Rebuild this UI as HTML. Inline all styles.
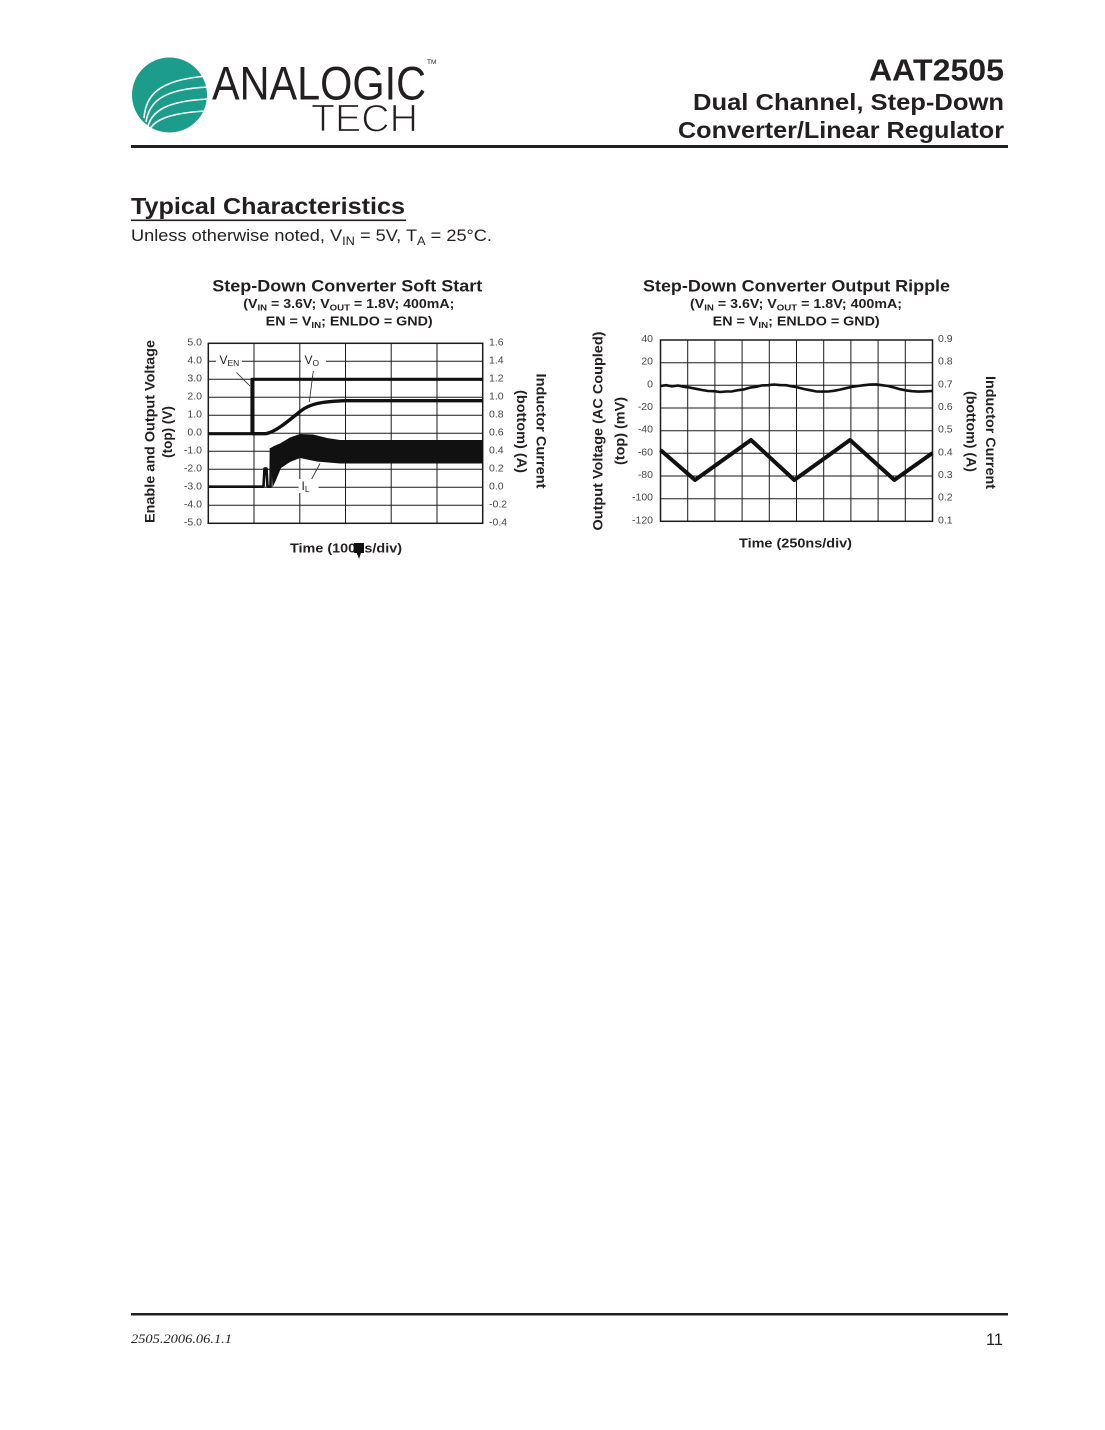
<!DOCTYPE html>
<html><head><meta charset="utf-8"><style>
html,body{margin:0;padding:0;background:#fff;}
svg{display:block;}
text{font-family:"Liberation Sans",sans-serif;}
</style></head><body>
<svg width="1105" height="1430" viewBox="0 0 1105 1430" xmlns="http://www.w3.org/2000/svg">
<rect x="0" y="0" width="1105" height="1430" fill="#fff"/>

<!-- Logo -->
<circle cx="169.5" cy="95" r="37.5" fill="#1c9d8c"/>
<g fill="none" stroke="#fff" stroke-width="1.6">
<path d="M144,118 C146,96 157,80 207,76"/>
<path d="M146,122 C149,103 161,89 208,87"/>
<path d="M148,126 C152,112 165,101 208,99"/>
<path d="M150,129 C155,120 169,113 206,111"/>
</g>
<text x="212" y="99.5" font-size="47" fill="#231f20" textLength="214" lengthAdjust="spacingAndGlyphs">ANALOGIC</text>
<text x="427" y="64" font-size="6.5" fill="#231f20">TM</text>
<text x="311" y="131.5" font-size="39" fill="#231f20" stroke="#fff" stroke-width="1.2" textLength="107" lengthAdjust="spacingAndGlyphs">TECH</text>

<!-- Header right -->
<text x="1004" y="80.7" font-size="31" font-weight="bold" fill="#231f20" text-anchor="end" textLength="135" lengthAdjust="spacingAndGlyphs">AAT2505</text>
<text x="1004" y="110" font-size="23" font-weight="bold" fill="#231f20" text-anchor="end" textLength="311" lengthAdjust="spacingAndGlyphs">Dual Channel, Step-Down</text>
<text x="1004" y="138" font-size="23" font-weight="bold" fill="#231f20" text-anchor="end" textLength="326" lengthAdjust="spacingAndGlyphs">Converter/Linear Regulator</text>
<rect x="131" y="145" width="877" height="3" fill="#231f20"/>

<!-- Section heading -->
<text x="131" y="214" font-size="23" font-weight="bold" fill="#231f20" textLength="274" lengthAdjust="spacingAndGlyphs">Typical Characteristics</text>
<rect x="131" y="219.5" width="275" height="1.6" fill="#231f20"/>
<text x="131" y="241" font-size="17" fill="#231f20" textLength="361" lengthAdjust="spacingAndGlyphs">Unless otherwise noted, V<tspan font-size="12" dy="4">IN</tspan><tspan dy="-4"> = 5V, T</tspan><tspan font-size="12" dy="4">A</tspan><tspan dy="-4"> = 25°C.</tspan></text>

<!-- ============ LEFT CHART ============ -->
<text x="212.3" y="291.5" font-size="17" font-weight="bold" fill="#231f20" textLength="270" lengthAdjust="spacingAndGlyphs">Step-Down Converter Soft Start</text>
<text x="243.3" y="308" font-size="12.5" font-weight="bold" fill="#231f20" textLength="211" lengthAdjust="spacingAndGlyphs">(V<tspan font-size="8.5" dy="2.5">IN</tspan><tspan dy="-2.5"> = 3.6V; V</tspan><tspan font-size="8.5" dy="2.5">OUT</tspan><tspan dy="-2.5"> = 1.8V; 400mA;</tspan></text>
<text x="265.7" y="325.5" font-size="12.5" font-weight="bold" fill="#231f20" textLength="167" lengthAdjust="spacingAndGlyphs">EN = V<tspan font-size="8.5" dy="2.5">IN</tspan><tspan dy="-2.5">; ENLDO = GND)</tspan></text>

<g stroke="#1a1a1a" stroke-width="1" fill="none">
<line x1="254" y1="343.3" x2="254" y2="523.3"/>
<line x1="299.8" y1="343.3" x2="299.8" y2="523.3"/>
<line x1="345.5" y1="343.3" x2="345.5" y2="523.3"/>
<line x1="391.2" y1="343.3" x2="391.2" y2="523.3"/>
<line x1="437" y1="343.3" x2="437" y2="523.3"/>
<line x1="208.3" y1="361.3" x2="482.7" y2="361.3"/>
<line x1="208.3" y1="379.3" x2="482.7" y2="379.3"/>
<line x1="208.3" y1="397.3" x2="482.7" y2="397.3"/>
<line x1="208.3" y1="415.3" x2="482.7" y2="415.3"/>
<line x1="208.3" y1="433.3" x2="482.7" y2="433.3"/>
<line x1="208.3" y1="451.3" x2="482.7" y2="451.3"/>
<line x1="208.3" y1="469.3" x2="482.7" y2="469.3"/>
<line x1="208.3" y1="487.3" x2="482.7" y2="487.3"/>
<line x1="208.3" y1="505.3" x2="482.7" y2="505.3"/>
</g>
<rect x="208.3" y="343.3" width="274.4" height="180" fill="none" stroke="#1a1a1a" stroke-width="1.5"/>

<!-- label backgrounds -->
<rect x="216" y="354" width="26" height="14" fill="#fff"/>
<rect x="301" y="354" width="25" height="14" fill="#fff"/>
<rect x="298.5" y="479" width="20" height="14" fill="#fff"/>

<!-- traces -->
<g fill="none" stroke="#111" stroke-linejoin="round">
<path d="M208.3,433.7 L252,433.7 L252,379.3 L482.7,379.3" stroke-width="3.2"/>
<path d="M252,433.7 L266,433.7 C275,432 286,423 300.7,411 C310,404 320,401.5 346.7,400.7 L482.7,400.7" stroke-width="3.4"/>
<path d="M208.3,486.7 L263.5,486.7 L264.5,468.5 L266.5,468.5 L267.5,486.7 L270.5,486.7 L271,448" stroke-width="2.6"/>
</g>
<path d="M270.5,448 L274,446 L280,443.5 L290,437.5 L300,434 L313,434.5 L327,438 L340,440 L482.7,440 L482.7,463.5 L340,463.5 L316.7,461.5 L300,458 L290,462 L281,468 L276,480 L272.5,487.5 Z" fill="#111"/>

<!-- labels -->
<text x="219.5" y="364" font-size="12" fill="#222">V<tspan font-size="8.5" dy="2">EN</tspan></text>
<text x="304.5" y="364" font-size="12" fill="#222">V<tspan font-size="8.5" dy="2">O</tspan></text>
<text x="301.5" y="490" font-size="12" fill="#222">I<tspan font-size="8.5" dy="2">L</tspan></text>
<g stroke="#222" stroke-width="0.8">
<line x1="236.5" y1="372.5" x2="250" y2="386"/>
<line x1="313.3" y1="371" x2="309.3" y2="402"/>
<line x1="311.7" y1="479" x2="320" y2="463.5"/>
</g>

<!-- ticks -->
<g font-size="10.5" fill="#444" text-anchor="end">
<text x="202" y="345.3">5.0</text>
<text x="202" y="363.3">4.0</text>
<text x="202" y="381.3">3.0</text>
<text x="202" y="399.3">2.0</text>
<text x="202" y="417.3">1.0</text>
<text x="202" y="435.3">0.0</text>
<text x="202" y="453.3">-1.0</text>
<text x="202" y="471.3">-2.0</text>
<text x="202" y="489.3">-3.0</text>
<text x="202" y="507.3">-4.0</text>
<text x="202" y="525.3">-5.0</text>
</g>
<g font-size="10.5" fill="#444">
<text x="489" y="345.3">1.6</text>
<text x="489" y="363.3">1.4</text>
<text x="489" y="381.3">1.2</text>
<text x="489" y="399.3">1.0</text>
<text x="489" y="417.3">0.8</text>
<text x="489" y="435.3">0.6</text>
<text x="489" y="453.3">0.4</text>
<text x="489" y="471.3">0.2</text>
<text x="489" y="489.3">0.0</text>
<text x="489" y="507.3">-0.2</text>
<text x="489" y="525.3">-0.4</text>
</g>
<!-- axis titles -->
<text transform="translate(154.5,431.5) rotate(-90)" font-size="13.5" font-weight="bold" fill="#231f20" text-anchor="middle" textLength="183" lengthAdjust="spacingAndGlyphs">Enable and Output Voltage</text>
<text transform="translate(172,432) rotate(-90)" font-size="13.5" font-weight="bold" fill="#231f20" text-anchor="middle">(top) (V)</text>
<text transform="translate(536.5,431) rotate(90)" font-size="13.5" font-weight="bold" fill="#231f20" text-anchor="middle" textLength="115" lengthAdjust="spacingAndGlyphs">Inductor Current</text>
<text transform="translate(517,431.5) rotate(90)" font-size="13.5" font-weight="bold" fill="#231f20" text-anchor="middle" textLength="83" lengthAdjust="spacingAndGlyphs">(bottom) (A)</text>
<text x="290" y="552.7" font-size="13" font-weight="bold" fill="#231f20" textLength="112" lengthAdjust="spacingAndGlyphs">Time (100µs/div)</text>
<path d="M354,543 L364,543 L364,553 L361,553 L359,559 L357,553 L354,553 Z" fill="#111"/>

<!-- ============ RIGHT CHART ============ -->
<text x="643" y="291.5" font-size="17" font-weight="bold" fill="#231f20" textLength="307" lengthAdjust="spacingAndGlyphs">Step-Down Converter Output Ripple</text>
<text x="690" y="308" font-size="12.5" font-weight="bold" fill="#231f20" textLength="212" lengthAdjust="spacingAndGlyphs">(V<tspan font-size="8.5" dy="2.5">IN</tspan><tspan dy="-2.5"> = 3.6V; V</tspan><tspan font-size="8.5" dy="2.5">OUT</tspan><tspan dy="-2.5"> = 1.8V; 400mA;</tspan></text>
<text x="712.7" y="325.5" font-size="12.5" font-weight="bold" fill="#231f20" textLength="167" lengthAdjust="spacingAndGlyphs">EN = V<tspan font-size="8.5" dy="2.5">IN</tspan><tspan dy="-2.5">; ENLDO = GND)</tspan></text>

<g stroke="#1a1a1a" stroke-width="1" fill="none">
<line x1="687.7" y1="340" x2="687.7" y2="521.3"/>
<line x1="714.9" y1="340" x2="714.9" y2="521.3"/>
<line x1="742.1" y1="340" x2="742.1" y2="521.3"/>
<line x1="769.3" y1="340" x2="769.3" y2="521.3"/>
<line x1="796.5" y1="340" x2="796.5" y2="521.3"/>
<line x1="823.7" y1="340" x2="823.7" y2="521.3"/>
<line x1="850.9" y1="340" x2="850.9" y2="521.3"/>
<line x1="878.1" y1="340" x2="878.1" y2="521.3"/>
<line x1="905.3" y1="340" x2="905.3" y2="521.3"/>
<line x1="660.5" y1="362.7" x2="932.5" y2="362.7"/>
<line x1="660.5" y1="385.3" x2="932.5" y2="385.3"/>
<line x1="660.5" y1="408" x2="932.5" y2="408"/>
<line x1="660.5" y1="430.7" x2="932.5" y2="430.7"/>
<line x1="660.5" y1="453.3" x2="932.5" y2="453.3"/>
<line x1="660.5" y1="476" x2="932.5" y2="476"/>
<line x1="660.5" y1="498.7" x2="932.5" y2="498.7"/>
</g>
<rect x="660.5" y="340" width="272" height="181.3" fill="none" stroke="#1a1a1a" stroke-width="1.5"/>

<g fill="none" stroke="#111" stroke-linejoin="round">
<path d="M660.5,386 L666,385.2 L672,386.4 L678,385.5 L684,386.8 L690,387.6 L696,388.8 L702,390 L708,391 L714,391.2 L720,392 L726,391.5 L732,391.4 L738,390.2 L744,389.4 L750,387.6 L756,386.8 L762,385.4 L768,385.2 L774,384.5 L780,385.1 L786,385.2 L792,386.4 L798,387.5 L804,389 L810,390.2 L816,391.4 L822,391.6 L828,391.5 L834,390.8 L840,389.6 L846,388.2 L852,386.9 L858,386 L864,385.2 L870,384.6 L876,384.4 L882,385.2 L888,386 L894,387.5 L900,389.2 L906,390.4 L912,391.2 L918,391.6 L924,391.4 L932.5,391" stroke-width="2.6"/>
<path d="M660.5,450 L695,480 L751,440 L794.3,480 L850,440 L894.3,480 L932.5,453" stroke-width="4"/>
</g>

<g font-size="10.5" fill="#444" text-anchor="end">
<text x="653" y="342">40</text>
<text x="653" y="364.7">20</text>
<text x="653" y="387.3">0</text>
<text x="653" y="410">-20</text>
<text x="653" y="432.7">-40</text>
<text x="653" y="455.3">-60</text>
<text x="653" y="478">-80</text>
<text x="653" y="500.7">-100</text>
<text x="653" y="523.3">-120</text>
</g>
<g font-size="10.5" fill="#444">
<text x="938" y="342">0.9</text>
<text x="938" y="364.7">0.8</text>
<text x="938" y="387.3">0.7</text>
<text x="938" y="410">0.6</text>
<text x="938" y="432.7">0.5</text>
<text x="938" y="455.3">0.4</text>
<text x="938" y="478">0.3</text>
<text x="938" y="500.7">0.2</text>
<text x="938" y="523.3">0.1</text>
</g>
<text transform="translate(602.5,431) rotate(-90)" font-size="13.5" font-weight="bold" fill="#231f20" text-anchor="middle" textLength="199" lengthAdjust="spacingAndGlyphs">Output Voltage (AC Coupled)</text>
<text transform="translate(624.5,431) rotate(-90)" font-size="13.5" font-weight="bold" fill="#231f20" text-anchor="middle" textLength="68" lengthAdjust="spacingAndGlyphs">(top) (mV)</text>
<text transform="translate(986,432.5) rotate(90)" font-size="13.5" font-weight="bold" fill="#231f20" text-anchor="middle" textLength="113" lengthAdjust="spacingAndGlyphs">Inductor Current</text>
<text transform="translate(966.5,431.5) rotate(90)" font-size="13.5" font-weight="bold" fill="#231f20" text-anchor="middle" textLength="81" lengthAdjust="spacingAndGlyphs">(bottom) (A)</text>
<text x="739" y="547.5" font-size="13" font-weight="bold" fill="#231f20" textLength="113" lengthAdjust="spacingAndGlyphs">Time (250ns/div)</text>

<!-- Footer -->
<rect x="131" y="1313" width="877" height="2.5" fill="#231f20"/>
<text x="131" y="1343" font-style="italic" font-size="13" fill="#231f20" textLength="101" lengthAdjust="spacingAndGlyphs" style="font-family:'Liberation Serif',serif">2505.2006.06.1.1</text>
<text x="1003" y="1345" font-size="17" fill="#231f20" text-anchor="end" textLength="17" lengthAdjust="spacingAndGlyphs">11</text>
</svg>
</body></html>
